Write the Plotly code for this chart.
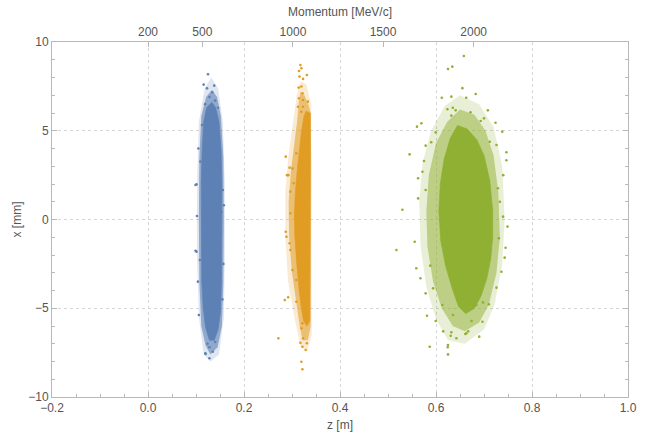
import plotly.graph_objects as go

# ---------------- data ----------------
series_names = ["500 MeV/c", "1000 MeV/c", "2000 MeV/c"]
series_colors = ["#5E81B5", "#E19C24", "#8FB032"]

# top axis: momentum tick labels and their z positions
momentum_labels = ["200", "500", "1000", "1500", "2000"]
momentum_tick_z = [0.0, 0.1133, 0.302, 0.4896, 0.6785]

# dense core outlines (z [m], x [mm])
blue_core = [(0.133, 6.6), (0.141, 6.3), (0.148, 5.5), (0.152, 4.0), (0.154, 2.0), (0.154, -1.0),
             (0.153, -3.5), (0.151, -5.2), (0.146, -6.2), (0.138, -6.8), (0.128, -6.8), (0.120, -6.1),
             (0.115, -5.0), (0.112, -3.5), (0.111, -1.0), (0.111, 2.0), (0.113, 4.0), (0.116, 5.5),
             (0.122, 6.3)]
orange_core = [(0.329, 6.1), (0.338, 6.0), (0.338, 3.0), (0.338, 0.0), (0.338, -3.0), (0.337, -5.7),
               (0.331, -6.0), (0.324, -5.7), (0.319, -4.9), (0.315, -4.0), (0.310, -2.5), (0.306, -1.0),
               (0.305, 0.3), (0.307, 1.5), (0.311, 2.8), (0.316, 4.0), (0.320, 5.0), (0.325, 5.8)]
green_core = [(0.645, 5.3), (0.665, 5.1), (0.685, 4.5), (0.700, 3.6), (0.712, 2.2), (0.718, 0.5),
              (0.718, -1.0), (0.714, -2.2), (0.706, -3.3), (0.694, -4.3), (0.680, -5.0), (0.662, -5.3),
              (0.647, -4.9), (0.634, -3.9), (0.620, -2.6), (0.610, -1.2), (0.606, 0.5), (0.609, 2.0),
              (0.617, 3.4), (0.630, 4.6)]

# sparser surrounding band outlines
blue_halo = [(0.133, 7.3), (0.144, 6.9), (0.152, 5.8), (0.157, 3.5), (0.158, 0.0), (0.157, -3.5),
             (0.154, -6.0), (0.145, -7.2), (0.130, -7.6), (0.120, -7.1), (0.111, -6.0), (0.107, -3.5),
             (0.106, 0.0), (0.107, 3.5), (0.111, 5.8), (0.121, 6.9)]
orange_halo = [(0.318, 7.2), (0.326, 7.0), (0.334, 6.5), (0.339, 6.0), (0.340, 3.0), (0.340, -3.0),
               (0.339, -6.0), (0.333, -6.8), (0.322, -6.8), (0.316, -6.0), (0.310, -4.8), (0.300, -3.0),
               (0.294, -1.0), (0.293, 1.0), (0.298, 2.8), (0.305, 4.2), (0.311, 5.6), (0.314, 6.6)]
green_halo = [(0.650, 6.2), (0.680, 5.9), (0.703, 5.0), (0.720, 3.6), (0.730, 1.5), (0.733, -1.0),
              (0.726, -3.0), (0.710, -4.8), (0.690, -5.8), (0.660, -6.3), (0.635, -6.0), (0.612, -5.0),
              (0.594, -3.5), (0.582, -1.5), (0.580, 0.5), (0.585, 2.5), (0.600, 4.3), (0.623, 5.5)]

# faint outer fringe outlines
blue_fringe = [(0.132, 8.0), (0.146, 7.4), (0.156, 5.5), (0.160, 2.0), (0.160, -2.0), (0.158, -5.5),
               (0.148, -7.6), (0.130, -8.0), (0.116, -7.6), (0.106, -5.5), (0.102, -2.0), (0.102, 2.0),
               (0.106, 5.5), (0.118, 7.4)]
orange_fringe = [(0.318, 7.8), (0.330, 7.6), (0.340, 6.5), (0.341, -6.5), (0.332, -7.4), (0.318, -7.2),
                 (0.305, -5.5), (0.292, -3.5), (0.286, -1.0), (0.286, 1.5), (0.292, 3.5), (0.303, 5.5),
                 (0.310, 7.0)]
green_fringe = [(0.650, 7.0), (0.690, 6.5), (0.720, 5.2), (0.738, 3.0), (0.743, 0.0), (0.738, -2.5),
                (0.722, -4.8), (0.700, -6.2), (0.660, -7.0), (0.625, -6.8), (0.600, -5.6), (0.580, -3.8),
                (0.568, -1.5), (0.565, 1.0), (0.572, 3.2), (0.590, 5.0), (0.618, 6.4)]

# individual scattered points
blue_points = [(0.125, 8.18), (0.116, 7.60), (0.138, 7.54), (0.123, 7.39), (0.134, 7.17), (0.128, 6.9),
               (0.140, 6.7), (0.119, 6.5), (0.146, 6.3), (0.101, 1.98), (0.109, 3.26), (0.1125, 5.32),
               (0.146, 4.95), (0.156, 1.66), (0.153, 0.44), (0.099, 1.94), (0.102, 0.20), (0.099, -1.76),
               (0.1195, -7.54), (0.135, -7.45), (0.128, -7.82), (0.106, -5.38), (0.108, -2.28),
               (0.120, -7.58), (0.128, -7.20), (0.101, -1.81), (0.104, -3.5), (0.105, 4.0),
               (0.157, -2.5), (0.155, -4.5), (0.158, 0.8), (0.124, -7.0), (0.140, -6.9)]
orange_points = [(0.3175, 8.70), (0.3196, 8.52), (0.3146, 8.37), (0.331, 8.14), (0.3156, 8.05),
                 (0.323, 7.92), (0.314, 7.43), (0.3196, 7.49), (0.3217, 7.11), (0.3146, 6.83),
                 (0.323, 6.73), (0.333, 6.64), (0.3125, 6.35), (0.323, 6.35), (0.3196, 6.07),
                 (0.287, 3.54), (0.309, 3.73), (0.295, 2.92), (0.301, 2.88), (0.2896, 2.50),
                 (0.2925, 2.50), (0.3035, 2.04), (0.2966, 1.57), (0.2966, 0.35), (0.287, -0.69),
                 (0.2885, -0.97), (0.295, -1.34), (0.2966, -1.72), (0.301, -2.85), (0.309, -3.41),
                 (0.285, -4.54), (0.292, -4.38), (0.309, -4.63), (0.2716, -6.69), (0.3217, -5.85),
                 (0.3196, -6.13), (0.323, -6.69), (0.3175, -6.94), (0.331, -6.97), (0.3217, -7.17),
                 (0.3285, -7.35), (0.3196, -8.01), (0.3217, -8.44)]
green_points = [(0.658, 9.21), (0.634, 8.61), (0.625, 8.48), (0.6827, 7.07), (0.612, 6.86), (0.632, 6.92),
                (0.663, 6.86), (0.6237, 6.21), (0.635, 6.30), (0.641, 6.15), (0.672, 6.04), (0.708, 6.15),
                (0.632, 5.85), (0.693, 5.55), (0.5604, 5.23), (0.5696, 5.42), (0.724, 5.45), (0.738, 4.95),
                (0.545, 3.67), (0.5785, 4.16), (0.590, 4.35), (0.5994, 4.91), (0.7467, 3.79), (0.7467, 3.34),
                (0.726, 4.20), (0.712, 4.38), (0.530, 0.55), (0.5627, 1.19), (0.5627, 2.32), (0.5717, 2.69),
                (0.5785, 1.66), (0.7396, 0.16), (0.729, 1.76), (0.733, 1.00), (0.559, -2.75), (0.5556, -1.25),
                (0.5675, -3.31), (0.5785, -4.16), (0.5812, -5.42), (0.5869, -7.17), (0.5994, -5.72),
                (0.625, -7.60), (0.625, -7.07), (0.632, -6.35), (0.6425, -6.69), (0.6633, -6.41),
                (0.667, -6.30), (0.6967, -5.76), (0.674, -5.72), (0.7102, -4.78), (0.726, -3.84),
                (0.7363, -2.94), (0.743, -2.15), (0.745, -1.59), (0.731, -1.06), (0.594, -3.88),
                (0.6133, -4.82), (0.6354, -5.38), (0.6842, -4.82), (0.698, -4.67), (0.5175, -1.72),
                (0.6244, -7.20), (0.6306, -6.55), (0.661, -6.45), (0.575, 3.3), (0.588, -2.6),
                (0.740, 2.5), (0.749, -0.4), (0.700, 5.7), (0.655, 7.4), (0.615, -6.3), (0.690, -6.6)]

cores = [blue_core, orange_core, green_core]
halos = [blue_halo, orange_halo, green_halo]
fringes = [blue_fringe, orange_fringe, green_fringe]
points = [blue_points, orange_points, green_points]
halo_alpha = [0.6, 0.55, 0.5]
fringe_alpha = [0.2, 0.2, 0.2]

# ---------------- figure ----------------
def hex_rgba(h, a):
    h = h.lstrip("#")
    return "rgba(%d,%d,%d,%.2f)" % (int(h[0:2], 16), int(h[2:4], 16), int(h[4:6], 16), a)

def closed(poly, k):
    vals = [p[k] for p in poly]
    return vals + [vals[0]]

fig = go.Figure()
for name, col, core, halo, fringe, pts, ha, fa in zip(series_names, series_colors, cores, halos, fringes,
                                                      points, halo_alpha, fringe_alpha):
    fig.add_trace(go.Scatter(x=closed(fringe, 0), y=closed(fringe, 1),
                             mode="lines", fill="toself", fillcolor=hex_rgba(col, fa),
                             line=dict(width=0), hoverinfo="skip", showlegend=False))
    fig.add_trace(go.Scatter(x=closed(halo, 0), y=closed(halo, 1),
                             mode="lines", fill="toself", fillcolor=hex_rgba(col, ha),
                             line=dict(width=0), hoverinfo="skip", showlegend=False))
    fig.add_trace(go.Scatter(x=closed(core, 0), y=closed(core, 1),
                             mode="lines", fill="toself", fillcolor=col,
                             line=dict(width=1, color=hex_rgba(col, 0.7)), hoverinfo="skip", showlegend=False))
    fig.add_trace(go.Scatter(x=[p[0] for p in pts], y=[p[1] for p in pts], mode="markers", name=name,
                             marker=dict(size=2.6, color=col, line=dict(width=0)), showlegend=False))

# invisible trace to activate the top axis
fig.add_trace(go.Scatter(x=[momentum_tick_z[0]], y=[0], xaxis="x2", mode="markers",
                         marker=dict(opacity=0), hoverinfo="skip", showlegend=False))

font_family = "Liberation Sans, Arial, sans-serif"
frame_col = "#b8b8b8"
grid_col = "#d6d6d6"
text_col = "#555555"

fig.update_layout(
    width=647, height=434,
    margin=dict(l=52, r=19, t=42, b=37, autoexpand=False),
    paper_bgcolor="white", plot_bgcolor="white",
    font=dict(family=font_family, size=12, color=text_col),
    xaxis=dict(range=[-0.2, 1.0], tickvals=[-0.2, 0.0, 0.2, 0.4, 0.6, 0.8, 1.0], tickformat=".1f",
               showline=True, linecolor=frame_col, linewidth=1, mirror=False,
               ticks="inside", ticklen=5, tickcolor=frame_col,
               minor=dict(dtick=0.05, ticks="inside", ticklen=3, tickcolor=frame_col, showgrid=False),
               showgrid=True, gridcolor=grid_col, griddash="dot", gridwidth=1, zeroline=False,
               title=dict(text="z [m]", standoff=6, font=dict(size=12, color=text_col)),
               tickfont=dict(size=12, color=text_col)),
    xaxis2=dict(range=[-0.2, 1.0], overlaying="x", side="top", tickvals=momentum_tick_z,
                ticktext=momentum_labels, showline=True, linecolor=frame_col, linewidth=1,
                ticks="inside", ticklen=5, tickcolor=frame_col, showgrid=False, zeroline=False,
                title=dict(text="Momentum [MeV/c]", standoff=6, font=dict(size=12, color=text_col)),
                tickfont=dict(size=12, color=text_col)),
    yaxis=dict(range=[-10, 10], tickvals=[-10, -5, 0, 5, 10],
               showline=True, linecolor=frame_col, linewidth=1, mirror="ticks",
               ticks="inside", ticklen=5, tickcolor=frame_col,
               minor=dict(dtick=1, ticks="inside", ticklen=3, tickcolor=frame_col, showgrid=False),
               showgrid=True, gridcolor=grid_col, griddash="dot", gridwidth=1, zeroline=False,
               title=dict(text="x [mm]", standoff=4, font=dict(size=12, color=text_col)),
               tickfont=dict(size=12, color=text_col)),
)

fig.write_html("out.html")
